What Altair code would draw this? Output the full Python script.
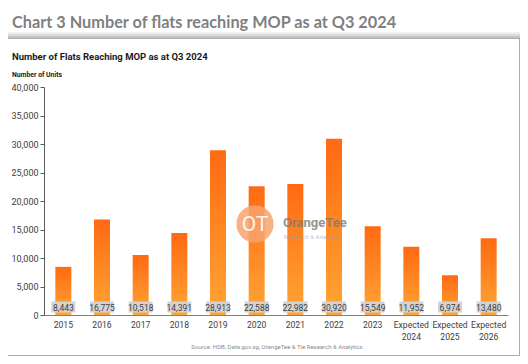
import altair as alt
import pandas as pd

categories = ["2015", "2016", "2017", "2018", "2019", "2020", "2021", "2022", "2023",
              "Expected 2024", "Expected 2025", "Expected 2026"]
values = [8443, 16775, 10518, 14391, 28913, 22588, 22982, 30920, 15549, 11952, 6974, 13480]
y_ticks = [0, 5000, 10000, 15000, 20000, 25000, 30000, 35000, 40000]

df = pd.DataFrame({"cat": categories, "val": values})
one = pd.DataFrame({"a": [0]})

FONT = "Roboto"

x_enc = alt.X("cat:N", sort=categories,
              scale=alt.Scale(paddingInner=0, paddingOuter=0),
              axis=alt.Axis(title=None, labelAngle=0, ticks=False, domainColor="#7f7f7f",
                            labelColor="#404040", labelFontSize=8.6, labelPadding=5,
                            labelLineHeight=12, labelExpr="split(datum.label, ' ')",
                            zindex=1))
y_enc = alt.Y("val:Q", scale=alt.Scale(domain=[0, 40000], nice=False),
              axis=alt.Axis(title=None, values=y_ticks, format=",.0f", grid=False,
                            domainColor="#595959", tickColor="#595959", tickSize=4,
                            labelColor="#404040", labelFontSize=9, labelPadding=2,
                            zindex=1))

# card with soft shadow
shadow_layers = []
for op, grow in [(0.12, 7), (0.18, 5), (0.25, 3), (0.35, 1)]:
    shadow_layers.append(
        alt.Chart(one).mark_rect(color="#808080", opacity=op).encode(
            x=alt.value(-38 - grow), x2=alt.value(475 + grow + 1),
            y=alt.value(-48 - grow), y2=alt.value(268 + grow + 1)))
card = alt.Chart(one).mark_rect(color="white").encode(
    x=alt.value(-38), x2=alt.value(475), y=alt.value(-48), y2=alt.value(268))

bars = alt.Chart(df).mark_bar(
    size=16,
    color=alt.Gradient(gradient="linear",
                       stops=[alt.GradientStop(color="#FF6A12", offset=0),
                              alt.GradientStop(color="#FFA534", offset=1)],
                       x1=0, x2=0, y1=0, y2=1)
).encode(x=x_enc, y=y_enc)

boxes = alt.Chart(df).mark_bar(width=24, color="#D3D3D3").encode(
    x=alt.X("cat:N", sort=categories), y=alt.value(214.5), y2=alt.value(225.5))

labels = alt.Chart(df).mark_text(fontSize=8.5, color="#404040", baseline="middle").encode(
    x=alt.X("cat:N", sort=categories), y=alt.value(220.5),
    text=alt.Text("val:Q", format=","))

# watermark
wm_circle = alt.Chart(one).mark_point(filled=True, shape="circle", size=1385,
                                      color="#F7A36E", opacity=0.85).encode(
    x=alt.value(211), y=alt.value(137))
wm_ot = alt.Chart(one).mark_text(text="OT", fontSize=21, color="white",
                                 baseline="middle", opacity=0.9).encode(
    x=alt.value(211), y=alt.value(138))
wm_name = alt.Chart(one).mark_text(text="OrangeTee", fontSize=13, fontWeight="bold",
                                   color="#7a7a7a", align="left", baseline="middle",
                                   opacity=0.8).encode(x=alt.value(239), y=alt.value(136))
wm_sub = alt.Chart(one).mark_text(text="Research & Analytics", fontSize=6,
                                  color="#9a9a9a", align="left", baseline="middle",
                                  opacity=0.6).encode(x=alt.value(240), y=alt.value(150))

outer_title = alt.Chart(one).mark_text(
    text="Chart 3 Number of flats reaching MOP as at Q3 2024", font="Lato",
    fontSize=16.3, fontWeight="bold", color="#7f7f7f", align="left", baseline="alphabetic"
).encode(x=alt.value(-32), y=alt.value(-59))
inner_title = alt.Chart(one).mark_text(
    text="Number of Flats Reaching MOP as at Q3 2024",
    fontSize=9.5, fontWeight="bold",
    color="#1a1a1a", align="left", baseline="alphabetic"
).encode(x=alt.value(-32), y=alt.value(-27))
units = alt.Chart(one).mark_text(
    text="Number of Units", fontSize=6.8, fontWeight="bold", color="#1a1a1a",
    align="left", baseline="alphabetic"
).encode(x=alt.value(-32), y=alt.value(-10))
source = alt.Chart(one).mark_text(
    text="Source: HDB, Data.gov.sg, OrangeTee & Tie Research & Analytics", fontSize=6,
    color="#8c8c8c", align="center", baseline="alphabetic"
).encode(x=alt.value(233), y=alt.value(262))

chart = alt.layer(
    *shadow_layers, card, bars, boxes, labels, wm_circle, wm_ot, wm_name, wm_sub,
    outer_title, inner_title, units, source
).properties(
    width=464, height=228,
    autosize=alt.AutoSizeParams(type="none"),
    padding={"left": 36, "top": 79, "right": 12, "bottom": 41},
    background="white"
).configure_view(stroke=None).configure(font=FONT)

chart.save("out.html", embed_options={"renderer": "svg", "actions": False})
